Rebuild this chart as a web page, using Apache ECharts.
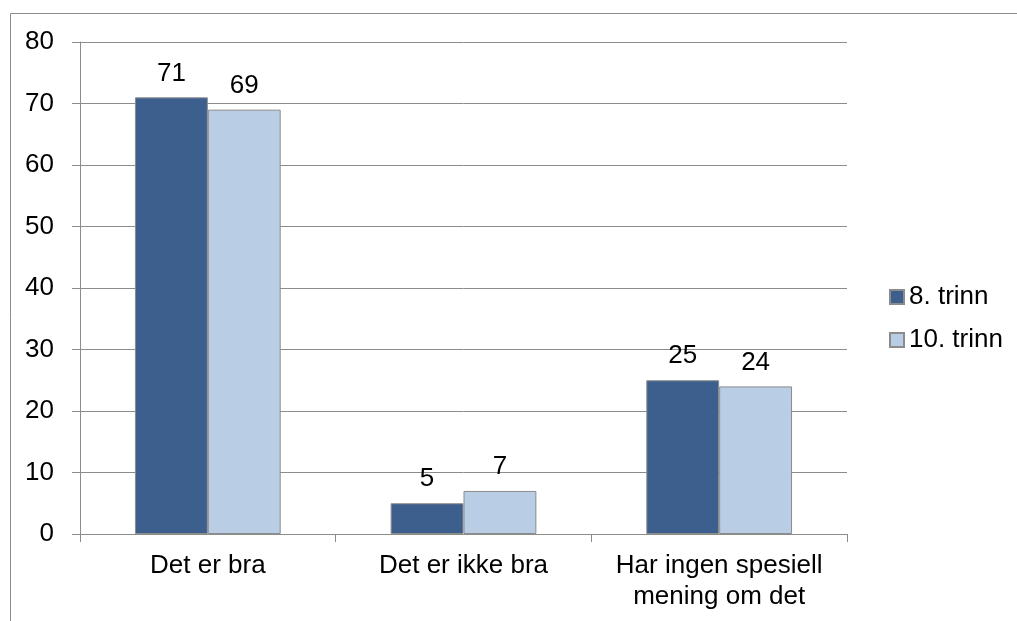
<!DOCTYPE html>
<html>
<head>
<meta charset="utf-8">
<script src="https://cdn.jsdelivr.net/npm/echarts@6/dist/echarts.min.js"></script>
<style>
  html, body { margin: 0; padding: 0; background: #fff; }
  #chart { width: 1017px; height: 621px; }
</style>
</head>
<body>
<div id="chart"></div>
<script>
const categories = ['Det er bra', 'Det er ikke bra', 'Har ingen spesiell\nmening om det'];
const seriesNames = ['8. trinn', '10. trinn'];
const trinn8 = [71, 5, 25];
const trinn10 = [69, 7, 24];
const yTicks = { min: 0, max: 80, interval: 10 };

const colors = ['#3C5F8E', '#B9CDE5'];
const font = '"Liberation Sans", Arial, sans-serif';
const gray = '#8c8c8c';

const chart = echarts.init(document.getElementById('chart'), null, { renderer: 'canvas' });

const makeSeries = (name, data, color) => ({
  name,
  type: 'bar',
  data,
  barGap: '0%',
  barCategoryGap: '43%',
  itemStyle: { color, borderColor: gray, borderWidth: 1 },
  label: {
    show: true,
    position: 'top',
    distance: 11,
    color: '#000',
    fontFamily: font,
    fontSize: 26,
  },
});

chart.setOption({
  animation: false,
  textStyle: { fontFamily: font },
  graphic: [
    {
      type: 'rect',
      shape: { x: 10.5, y: 13.5, width: 1100, height: 700 },
      style: { fill: 'none', stroke: gray, lineWidth: 1 },
      silent: true,
    },
  ],
  grid: { left: 80, right: 170, top: 42, bottom: 87 },
  legend: {
    orient: 'vertical',
    left: 884,
    top: 279,
    itemWidth: 14,
    itemHeight: 14,
    itemGap: 17,
    icon: 'rect',
    data: seriesNames,
    textStyle: { fontFamily: font, fontSize: 26, color: '#000' },
  },
  xAxis: {
    type: 'category',
    data: categories,
    axisLine: { lineStyle: { color: gray, width: 1 } },
    axisTick: { show: true, length: 8, alignWithLabel: false, lineStyle: { color: gray } },
    axisLabel: {
      color: '#000',
      fontFamily: font,
      fontSize: 26,
      lineHeight: 31,
      margin: 16,
      interval: 0,
    },
  },
  yAxis: {
    type: 'value',
    min: yTicks.min,
    max: yTicks.max,
    interval: yTicks.interval,
    axisLine: { show: true, lineStyle: { color: gray, width: 1 } },
    axisTick: { show: true, length: 8, lineStyle: { color: gray } },
    splitLine: { show: true, lineStyle: { color: gray, width: 1 } },
    axisLabel: { color: '#000', fontFamily: font, fontSize: 26, margin: 26 },
  },
  series: [
    makeSeries(seriesNames[0], trinn8, colors[0]),
    makeSeries(seriesNames[1], trinn10, colors[1]),
  ],
});
</script>
</body>
</html>
